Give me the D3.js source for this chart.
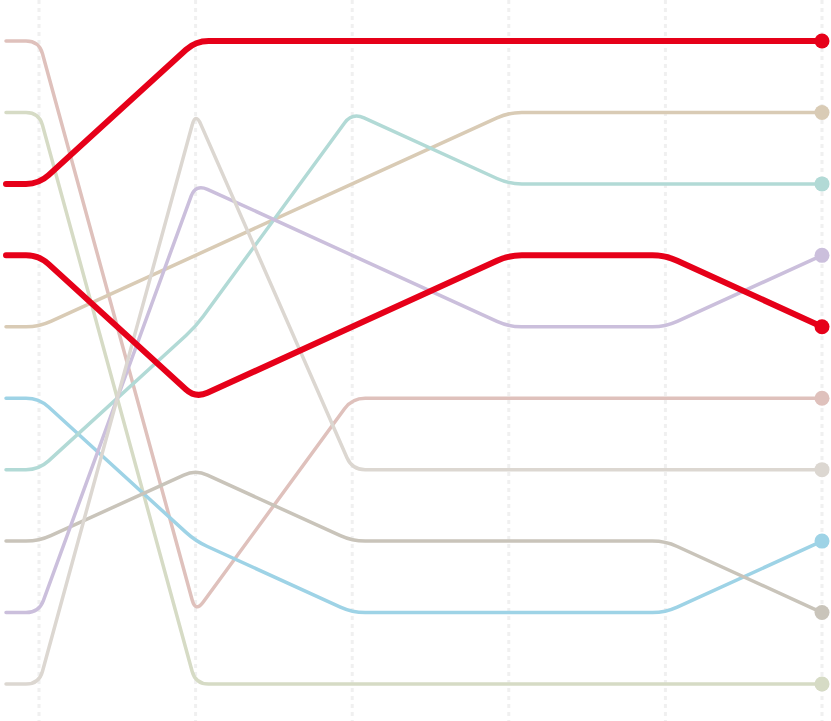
<!DOCTYPE html>
<html>
<head>
<meta charset="utf-8">
<script src="https://cdn.jsdelivr.net/npm/d3@7"></script>
<style>
html,body{margin:0;padding:0;background:#fff;}
svg{display:block;}
</style>
</head>
<body>
<div id="chart"></div>
<script>
// Columns (time steps) and ranks of each series at each step
const steps = [0, 1, 2, 3, 4, 5];
const seriesNames = ["A", "B", "C", "D", "E", "F", "G", "H", "I", "J"];
const ranksA = [3, 1, 1, 1, 1, 1];
const ranksB = [4, 6, 5, 4, 4, 5];
const ranksC = [1, 9, 6, 6, 6, 6];
const ranksD = [2, 10, 10, 10, 10, 10];
const ranksE = [5, 4, 3, 2, 2, 2];
const ranksF = [6, 8, 9, 9, 9, 8];
const ranksG = [7, 5, 2, 3, 3, 3];
const ranksH = [8, 7, 8, 8, 8, 9];
const ranksI = [9, 3, 4, 5, 5, 4];
const ranksJ = [10, 2, 7, 7, 7, 7];
const seriesColors = ["#e60019", "#e60019", "#dfc1bc", "#d6dbc5", "#d9cbb5", "#9ed3e6", "#b2dad6", "#c9c4ba", "#cbbfdc", "#dcd7d1"];
const highlighted = [true, true, false, false, false, false, false, false, false, false];

const allRanks = [ranksA, ranksB, ranksC, ranksD, ranksE, ranksF, ranksG, ranksH, ranksI, ranksJ];
const series = seriesNames.map((n, i) => ({name: n, ranks: allRanks[i], color: seriesColors[i], hl: highlighted[i]}));

const W = 831, H = 721;
const x = d3.scaleLinear().domain([0, 5]).range([39, 822]);
const y = d3.scalePoint().domain(d3.range(1, 11)).range([41, 684]);
const stub = 33;

const svg = d3.select("#chart").append("svg").attr("width", W).attr("height", H);

// dotted vertical gridlines
svg.append("g").selectAll("line").data(steps).join("line")
  .attr("x1", d => x(d)).attr("x2", d => x(d))
  .attr("y1", 0).attr("y2", H)
  .attr("stroke", "#f0f0f0").attr("stroke-width", 3)
  .attr("stroke-dasharray", "4,4");

function roundedPath(pts, r) {
  let p = d3.path();
  p.moveTo(pts[0][0], pts[0][1]);
  for (let i = 1; i < pts.length - 1; i++) {
    const [x0, y0] = pts[i - 1], [x1, y1] = pts[i], [x2, y2] = pts[i + 1];
    const d1x = x1 - x0, d1y = y1 - y0, d2x = x2 - x1, d2y = y2 - y1;
    const l1 = Math.hypot(d1x, d1y), l2 = Math.hypot(d2x, d2y);
    const cross = d1x * d2y - d1y * d2x;
    if (Math.abs(cross) < 1e-6 * l1 * l2) { p.lineTo(x1, y1); continue; }
    const rr = Math.min(r, l1 / 2, l2 / 2);
    const ax = x1 - d1x / l1 * rr, ay = y1 - d1y / l1 * rr;
    const bx = x1 + d2x / l2 * rr, by = y1 + d2y / l2 * rr;
    p.lineTo(ax, ay);
    p.quadraticCurveTo(x1, y1, bx, by);
  }
  const last = pts[pts.length - 1];
  p.lineTo(last[0], last[1]);
  return p.toString();
}

const ordered = series.filter(s => !s.hl).concat(series.filter(s => s.hl));

const g = svg.append("g");
ordered.forEach(s => {
  const pts = [[x(0) - stub, y(s.ranks[0])]].concat(steps.map(t => [x(t), y(s.ranks[t])]));
  g.append("path")
    .attr("d", roundedPath(pts, 13))
    .attr("fill", "none")
    .attr("stroke", s.color)
    .attr("stroke-width", s.hl ? 6 : 3.5)
    .attr("stroke-linecap", "round")
    .attr("stroke-linejoin", "round");
  g.append("circle")
    .attr("cx", x(5)).attr("cy", y(s.ranks[5]))
    .attr("r", 7.5)
    .attr("fill", s.color);
});
</script>
</body>
</html>
